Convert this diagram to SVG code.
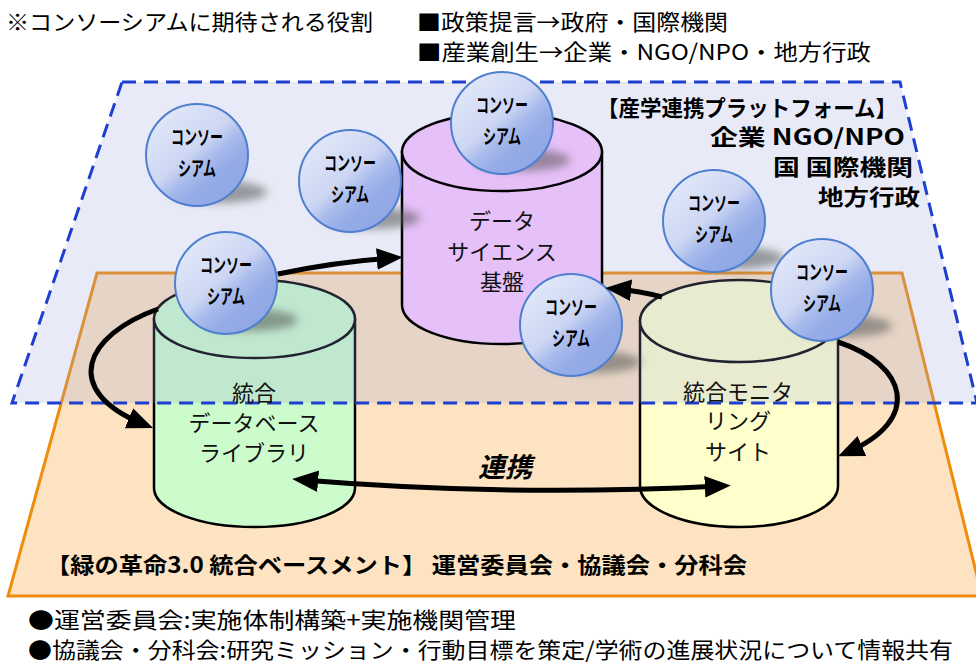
<svg xmlns="http://www.w3.org/2000/svg" width="976" height="664" viewBox="0 0 976 664">
<style>
.t{font-family:"Noto Sans CJK JP","Noto Sans",sans-serif;fill:#000}
.n{font-size:22px}
.b{font-size:22px;font-weight:bold}
.cyl{stroke:#000;stroke-width:2.5}
.sph{fill:url(#sg);stroke:#4f7fcf;stroke-width:2}
.st{font-family:"Noto Sans CJK JP",sans-serif;font-size:20px;font-weight:bold;text-anchor:middle;fill:#000}
.sh{fill:#555;opacity:0.55;filter:url(#blur)}
.ct{font-family:"Noto Sans CJK JP",sans-serif;font-size:22px;text-anchor:middle;fill:#111}
.arr{fill:none;stroke:#000;stroke-width:5}
</style>
<defs>
<linearGradient id="sg" x1="0.15" y1="0.1" x2="0.85" y2="0.9">
<stop offset="0" stop-color="#e2e8f9"/>
<stop offset="0.45" stop-color="#ccd6f3"/>
<stop offset="0.6" stop-color="#a9bbec"/>
<stop offset="0.75" stop-color="#96ace7"/>
<stop offset="1" stop-color="#90a7e6"/>
</linearGradient>
<filter id="blur" x="-50%" y="-100%" width="200%" height="300%"><feGaussianBlur stdDeviation="4"/></filter>
<marker id="ah" markerUnits="userSpaceOnUse" markerWidth="26" markerHeight="22" viewBox="0 0 24 20" refX="14" refY="10" orient="auto-start-reverse">
<path d="M0,0 L24,10 L0,20 Z" fill="#000"/>
</marker>
</defs>

<g id="base">
<path d="M97,273 L902,273 L982,596 L8,596 Z" fill="#fde3c1" stroke="#ee8c0c" stroke-width="3"/>
</g>

<g id="cyl-db">
<path class="cyl" fill="#ccfccc" d="M154,319 L154,488 A100.5,39 0 0 0 355,488 L355,319 Z"/>
<ellipse class="cyl" fill="#ccfccc" cx="254.5" cy="319" rx="100.5" ry="39"/>
</g>
<g id="cyl-mon">
<path class="cyl" fill="#ffffcc" d="M640,321 L640,486 A99,41 0 0 0 838,486 L838,321 Z"/>
<ellipse class="cyl" fill="#ffffcc" cx="739" cy="321" rx="99" ry="41"/>
</g>

<g id="platform">
<path d="M122,82 L900,82 L977,403 L12,403 Z" fill="rgb(150,164,218)" fill-opacity="0.22" stroke="#1c3fd0" stroke-width="3" stroke-dasharray="14 8"/>
</g>

<g id="cyl-ds">
<path class="cyl" fill="#e6c0f8" d="M402,152 L402,305 A100,39 0 0 0 602,305 L602,152 Z"/>
<ellipse class="cyl" fill="#e6c0f8" cx="502" cy="152" rx="100" ry="39"/>
</g>

<g id="cyl-labels">
<text class="ct" x="254" y="401">統合</text>
<text class="ct" x="254" y="431">データベース</text>
<text class="ct" x="254" y="461">ライブラリ</text>
<text class="ct" x="502" y="229">データ</text>
<text class="ct" x="502" y="260">サイエンス</text>
<text class="ct" x="502" y="290">基盤</text>
<text class="ct" x="738" y="400">統合モニタ</text>
<text class="ct" x="738" y="429">リング</text>
<text class="ct" x="738" y="460">サイト</text>
</g>

<g id="sphere1">
<ellipse class="sh" cx="219" cy="192" rx="48" ry="11"/>
<circle class="sph" cx="197" cy="155" r="51"/>
<text class="st" x="197" y="145" textLength="52" lengthAdjust="spacingAndGlyphs">コンソー</text>
<text class="st" x="197" y="176" textLength="38" lengthAdjust="spacingAndGlyphs">シアム</text>
</g>
<g id="sphere2">
<ellipse class="sh" cx="372" cy="218" rx="48" ry="11"/>
<circle class="sph" cx="350" cy="181" r="51"/>
<text class="st" x="350" y="171" textLength="52" lengthAdjust="spacingAndGlyphs">コンソー</text>
<text class="st" x="350" y="202" textLength="38" lengthAdjust="spacingAndGlyphs">シアム</text>
</g>
<g id="sphere3">
<ellipse class="sh" cx="522" cy="160" rx="48" ry="11"/>
<circle class="sph" cx="502" cy="123" r="51"/>
<text class="st" x="502" y="113" textLength="52" lengthAdjust="spacingAndGlyphs">コンソー</text>
<text class="st" x="502" y="144" textLength="38" lengthAdjust="spacingAndGlyphs">シアム</text>
</g>
<g id="sphere4">
<ellipse class="sh" cx="593" cy="362" rx="48" ry="11"/>
<circle class="sph" cx="571" cy="325" r="51"/>
<text class="st" x="571" y="315" textLength="52" lengthAdjust="spacingAndGlyphs">コンソー</text>
<text class="st" x="571" y="346" textLength="38" lengthAdjust="spacingAndGlyphs">シアム</text>
</g>
<g id="sphere5">
<ellipse class="sh" cx="250" cy="320" rx="48" ry="11"/>
<circle class="sph" cx="226" cy="283" r="51"/>
<text class="st" x="226" y="273" textLength="52" lengthAdjust="spacingAndGlyphs">コンソー</text>
<text class="st" x="226" y="304" textLength="38" lengthAdjust="spacingAndGlyphs">シアム</text>
</g>
<g id="sphere6">
<ellipse class="sh" cx="736" cy="258" rx="48" ry="11"/>
<circle class="sph" cx="714" cy="221" r="51"/>
<text class="st" x="714" y="211" textLength="52" lengthAdjust="spacingAndGlyphs">コンソー</text>
<text class="st" x="714" y="242" textLength="38" lengthAdjust="spacingAndGlyphs">シアム</text>
</g>
<g id="sphere7">
<ellipse class="sh" cx="844" cy="326" rx="48" ry="11"/>
<circle class="sph" cx="822" cy="290" r="51"/>
<text class="st" x="822" y="280" textLength="52" lengthAdjust="spacingAndGlyphs">コンソー</text>
<text class="st" x="822" y="311" textLength="38" lengthAdjust="spacingAndGlyphs">シアム</text>
</g>

<g id="connectors">
<path class="arr" marker-end="url(#ah)" d="M278,274 Q335,262 392,258"/>
<path class="arr" marker-end="url(#ah)" d="M158,309 C85,335 60,390 143,424"/>
<path class="arr" marker-end="url(#ah)" d="M662,297 Q640,291 616,289"/>
<path class="arr" marker-end="url(#ah)" d="M838,342 C908,365 922,420 848,452"/>
<path class="arr" marker-start="url(#ah)" marker-end="url(#ah)" d="M303,480 Q510,497 720,486"/>
<text x="505" y="477" font-family="Noto Sans CJK JP,sans-serif" font-size="27" font-weight="bold" font-style="italic" text-anchor="middle">連携</text>
</g>

<g id="platform-labels">
<text class="t b" x="897" y="116" text-anchor="end" textLength="300" lengthAdjust="spacingAndGlyphs">【産学連携プラットフォーム】</text>
<text class="t b" x="905" y="145" text-anchor="end" textLength="195" lengthAdjust="spacingAndGlyphs">企業 NGO/NPO</text>
<text class="t b" x="913" y="175" text-anchor="end" textLength="140" lengthAdjust="spacingAndGlyphs">国  国際機関</text>
<text class="t b" x="920" y="205" text-anchor="end" textLength="102" lengthAdjust="spacingAndGlyphs">地方行政</text>
</g>

<g id="base-label">
<text class="t b" x="46" y="573" textLength="701" lengthAdjust="spacingAndGlyphs">【緑の革命3.0 統合ベースメント】 運営委員会・協議会・分科会</text>
</g>

<g id="notes">
<text class="t n" x="6" y="30" textLength="367" lengthAdjust="spacingAndGlyphs">※コンソーシアムに期待される役割</text>
<text class="t n" x="417" y="30" textLength="311" lengthAdjust="spacingAndGlyphs">■政策提言→政府・国際機関</text>
<text class="t n" x="417" y="60" textLength="454" lengthAdjust="spacingAndGlyphs">■産業創生→企業・NGO/NPO・地方行政</text>
<text class="t n" x="28" y="628" textLength="488" lengthAdjust="spacingAndGlyphs">●運営委員会:実施体制構築+実施機関管理</text>
<text class="t n" x="28" y="658" textLength="925" lengthAdjust="spacingAndGlyphs">●協議会・分科会:研究ミッション・行動目標を策定/学術の進展状況について情報共有</text>
</g>
</svg>
